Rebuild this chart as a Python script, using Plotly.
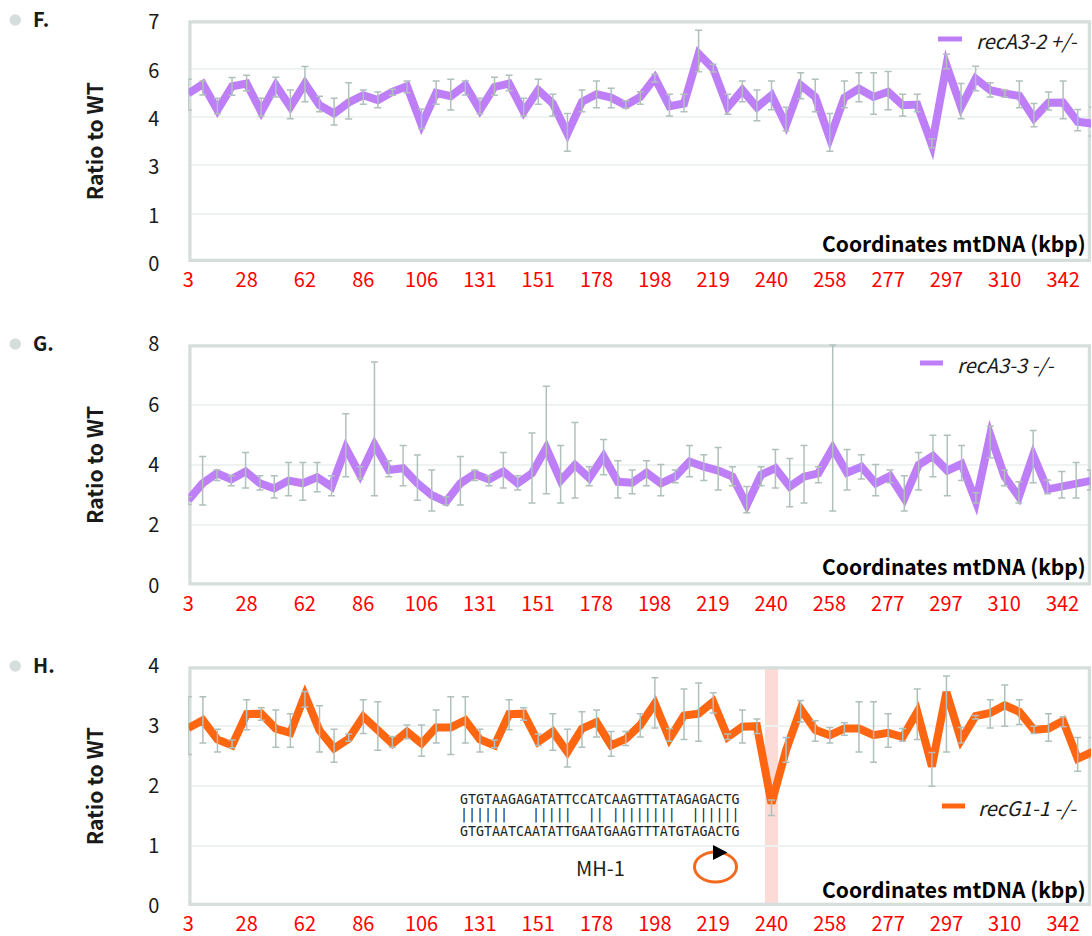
import numpy as np
import plotly.graph_objects as go

tick_labels = ["3","28","62","86","106","131","151","178","198","219","240","258","277","297","310","342"]

f_mean = [4.88,5.15,4.40,5.09,5.17,4.35,5.12,4.49,5.17,4.54,4.30,4.62,4.83,4.69,4.93,5.09,3.97,4.90,4.80,5.12,4.40,5.07,5.17,4.35,4.98,
          4.59,3.72,4.64,4.86,4.76,4.54,4.78,5.33,4.51,4.59,6.03,5.60,4.48,4.98,4.48,4.83,3.97,5.12,4.78,3.58,4.76,5.02,4.78,4.93,4.54,4.56,3.39,5.70,4.49,5.31,4.98,4.88,4.81,4.16,4.61,4.62,4.06,4.01]
f_high = [5.29,5.24,4.74,5.34,5.41,4.74,5.35,4.98,5.66,4.80,4.74,5.19,4.98,4.92,5.00,5.24,4.43,5.24,5.29,5.24,4.74,5.35,5.41,4.74,5.29,
          4.86,4.30,4.98,5.24,5.03,4.67,4.93,5.44,4.86,4.86,6.71,5.73,4.86,5.24,4.98,5.24,4.48,5.48,5.29,4.30,5.24,5.48,5.48,5.52,4.86,4.86,3.57,6.02,5.17,5.67,5.19,4.98,5.24,4.59,4.92,5.24,4.42,4.49]
f_low = [4.40,4.84,4.29,4.83,4.96,4.23,4.78,4.15,4.64,4.35,3.97,4.14,4.57,4.47,4.83,4.90,3.86,4.57,4.40,4.84,4.29,4.83,4.96,4.23,4.57,
         4.23,3.21,4.35,4.47,4.47,4.45,4.57,5.21,4.23,4.35,5.51,5.50,4.28,4.64,4.09,4.41,3.80,4.73,4.35,3.21,4.47,4.64,4.28,4.41,4.23,4.35,3.31,5.60,4.15,4.96,4.78,4.78,4.47,3.92,4.40,4.15,3.80,3.65]

g_mean = [2.83,3.39,3.72,3.52,3.78,3.39,3.22,3.48,3.39,3.59,3.28,4.56,3.67,4.67,3.83,3.89,3.39,3.00,2.78,3.39,3.70,3.52,3.78,3.39,3.72,
          4.56,3.48,4.00,3.56,4.28,3.44,3.41,3.74,3.39,3.61,4.11,3.94,3.81,3.61,2.67,3.67,3.89,3.28,3.61,3.72,4.56,3.74,3.94,3.39,3.63,2.89,4.00,4.30,3.81,4.03,2.78,5.00,3.61,2.94,4.33,3.19,3.28,3.39,3.47]
g_high = [2.94,4.28,3.83,3.64,4.41,3.64,3.64,4.08,4.08,4.08,3.64,5.70,3.94,7.41,4.14,4.64,4.33,3.83,2.94,4.28,3.83,3.64,4.41,3.64,5.06,
          6.61,4.64,5.41,3.94,4.84,4.14,3.83,4.14,4.01,3.83,4.64,4.34,4.58,3.94,3.28,3.94,4.51,4.21,4.64,3.94,7.98,4.51,4.34,4.01,3.83,3.64,4.41,4.98,4.98,4.64,3.08,5.28,3.83,3.44,5.14,3.50,3.78,4.08,3.83]
g_low = [2.69,2.67,3.48,3.31,3.23,3.17,2.90,2.98,2.83,3.11,2.98,3.61,3.53,2.98,3.61,3.31,2.83,2.47,2.67,2.67,3.48,3.31,3.23,3.17,2.74,
         3.04,2.74,2.90,3.31,3.67,2.90,3.04,3.31,2.98,3.41,3.61,3.48,3.17,3.31,2.41,3.31,3.23,2.61,2.74,3.41,2.47,3.17,3.53,2.98,3.41,2.47,3.17,3.61,2.98,3.48,2.74,4.24,3.31,2.74,3.41,3.04,2.90,2.90,3.17]

h_mean = [2.97,3.10,2.78,2.68,3.20,3.21,2.96,2.89,3.52,2.93,2.63,2.79,3.16,2.93,2.71,2.91,2.71,2.98,2.98,3.10,2.78,2.68,3.20,3.21,2.74,
          2.91,2.57,2.96,3.07,2.68,2.79,3.02,3.38,2.79,3.18,3.21,3.41,2.82,2.99,3.00,1.71,2.60,3.29,2.94,2.85,2.96,2.96,2.85,2.89,2.82,3.24,2.33,3.57,2.77,3.17,3.22,3.35,3.24,2.94,2.96,3.09,2.46,2.57]
h_high = [3.49,3.49,2.95,2.77,3.44,3.31,3.27,3.21,3.58,3.34,2.95,2.87,3.44,3.41,2.83,3.02,3.02,3.27,3.49,3.49,2.95,2.77,3.44,3.31,2.87,
          3.21,2.95,3.24,3.27,2.91,2.91,3.21,3.81,2.96,3.62,3.72,3.56,2.87,3.27,3.12,1.77,2.81,3.43,3.09,2.98,3.06,3.41,3.41,3.21,2.96,3.62,2.56,3.84,2.98,3.18,3.44,3.69,3.44,3.00,3.21,3.16,2.81,2.81]
h_low = [2.53,2.72,2.57,2.64,2.94,3.10,2.65,2.65,3.32,2.57,2.40,2.75,2.88,2.60,2.65,2.79,2.50,2.72,2.53,2.72,2.57,2.64,2.94,3.10,2.68,
         2.60,2.32,2.65,2.82,2.50,2.68,2.82,2.97,2.75,2.78,2.75,3.22,2.78,2.72,2.88,1.51,2.40,3.07,2.75,2.72,2.85,2.57,2.40,2.65,2.75,2.78,2.00,2.57,2.72,3.12,2.97,3.00,3.03,2.88,2.75,2.99,2.25,2.47]

seq_top = "GTGTAAGAGATATTCCATCAAGTTTATAGAGACTG"
seq_mid = "||||||   |||||  || ||||||||  ||||||"
seq_bot = "GTGTAATCAATATTGAATGAAGTTTATGTAGACTG"

W, H = 1092, 936
PURPLE, ORANGE = "#bd7ef7", "#ff6611"
FRAME, GRID, ERR = "#d5dedc", "#eef2f1", "#b0c0bd"
CJK = "Noto Sans CJK SC"
INK = "#1a1a1a"

def px(x): return x / W
def py(y): return 1 - y / H

panels = [
    dict(tag="F.", mean=f_mean, high=f_high, low=f_low, color=PURPLE, name="recA3-2 +/-", top=20.3, bot=262,
         ymax=7, yvals=[0,1.4,2.8,4.2,5.6,7], ytext=["0","1","3","4","6","7"], step=14.58, tick_step=4,
         leg=(938,962,39,974), tagy=(18,20), xtitle=243),
    dict(tag="G.", mean=g_mean, high=g_high, low=g_low, color=PURPLE, name="recA3-3 -/-", top=344.3, bot=585.5,
         ymax=8, yvals=[0,2,4,6,8], ytext=["0","2","4","6","8"], step=14.32, tick_step=4.07,
         leg=(920,943,363,955), tagy=(342,344), xtitle=566),
    dict(tag="H.", mean=h_mean, high=h_high, low=h_low, color=ORANGE, name="recG1-1 -/-", top=666.3, bot=906,
         ymax=4, yvals=[0,1,2,3,4], ytext=["0","1","2","3","4"], step=14.58, tick_step=4,
         leg=(942,965,806,976), tagy=(664,666), xtitle=889),
]

fig = go.Figure()
shapes, annos = [], []
X0, X1 = 188.3, 1091

for n, p in enumerate(panels, start=1):
    sfx = "" if n == 1 else str(n)
    xa, ya = "x" + sfx, "y" + sfx
    mean = np.array(p["mean"]); high = np.array(p["high"]); low = np.array(p["low"])
    idx = np.arange(len(mean))
    xmax = (X1-X0)/p["step"]
    fig.add_trace(go.Scatter(x=idx, y=mean, mode="lines", name=p["name"], xaxis=xa, yaxis=ya,
                             line=dict(color=p["color"], width=8), cliponaxis=False, showlegend=False))
    fig.add_trace(go.Scatter(x=idx, y=mean, mode="markers", xaxis=xa, yaxis=ya, showlegend=False,
                             marker=dict(opacity=0, size=1), cliponaxis=False,
                             error_y=dict(type="data", symmetric=False, array=high-mean, arrayminus=mean-low,
                                          color=ERR, thickness=1.5, width=3.5)))
    fig.update_layout(**{
        "xaxis" + sfx: dict(domain=[px(X0), px(X1)], range=[0, xmax], anchor=ya, automargin=False,
                            tickmode="array", tickvals=[k*p["tick_step"] for k in range(len(tick_labels))],
                            ticktext=tick_labels, tickangle=0, showgrid=False, zeroline=False, showline=False,
                            ticks="", ticklabelstandoff=4, tickfont=dict(family=CJK, size=20, color="#ff0000")),
        "yaxis" + sfx: dict(domain=[py(p["bot"]), py(p["top"])], range=[0, p["ymax"]], anchor=xa, automargin=False,
                            tickmode="array", tickvals=p["yvals"], ticktext=p["ytext"],
                            showgrid=True, gridcolor=GRID, gridwidth=2, zeroline=False, showline=False,
                            ticks="", ticklabelstandoff=28, tickfont=dict(family=CJK, size=20, color=INK),
                            title=dict(text="Ratio to WT", standoff=38, font=dict(family=CJK, size=21, color=INK, weight="bold"))),
    })
    # frame
    shapes.append(dict(type="rect", xref=xa, yref=ya, x0=0, x1=xmax, y0=0, y1=p["ymax"],
                       layer="between", line=dict(color=FRAME, width=6.5), fillcolor="rgba(0,0,0,0)"))
    # panel bullet + tag
    by = p["tagy"][1]
    shapes.append(dict(type="circle", xref="paper", yref="paper", x0=px(9.5), x1=px(21), y0=py(by+5.7), y1=py(by-5.7),
                       line=dict(width=0), fillcolor=FRAME))
    annos.append(dict(text=p["tag"], xref="paper", yref="paper", x=px(31), y=py(p["tagy"][0]), xanchor="left", yanchor="middle",
                      showarrow=False, font=dict(family=CJK, size=20, color=INK, weight="bold")))
    # x title
    annos.append(dict(text="Coordinates mtDNA (kbp)", xref="paper", yref="paper", x=px(1088), y=py(p["xtitle"]),
                      xanchor="right", yanchor="middle", showarrow=False,
                      font=dict(family=CJK, size=21, color="#000000", weight="bold")))
    # legend key
    l0, l1, ly, lt = p["leg"]
    shapes.append(dict(type="line", xref="paper", yref="paper", x0=px(l0), x1=px(l1), y0=py(ly), y1=py(ly),
                       line=dict(color=p["color"], width=5)))
    annos.append(dict(text="<i>%s</i>" % p["name"], xref="paper", yref="paper", x=px(lt), y=py(ly+1.5), xanchor="left", yanchor="middle",
                      showarrow=False, font=dict(family=CJK, size=20, color=INK)))

# pink highlight on panel H
shapes.append(dict(type="rect", xref="x3", yref="y3", x0=39.55, x1=40.45, y0=0, y1=4, layer="below",
                   line=dict(width=0), fillcolor="#fcdad6"))
# plasmid glyph
shapes.append(dict(type="circle", xref="paper", yref="paper", x0=px(694.5), x1=px(736.5), y0=py(882), y1=py(852),
                   line=dict(color="#f26a1e", width=3), fillcolor="rgba(0,0,0,0)"))
shapes.append(dict(type="path", xref="paper", yref="paper",
                   path="M %f %f L %f %f L %f %f Z" % (px(713), py(845), px(727.5), py(852.5), px(713), py(860)),
                   line=dict(width=0), fillcolor="#000000"))

for txt, y in ((seq_top, 799.5), (seq_mid, 815), (seq_bot, 831.5)):
    annos.append(dict(text=txt, xref="paper", yref="paper", x=px(458), y=py(y), xanchor="left", yanchor="middle",
                      showarrow=False, font=dict(family="DejaVu Sans Mono", size=13.28, color="#222222")))
annos.append(dict(text="MH-1", xref="paper", yref="paper", x=px(600), y=py(867), xanchor="center", yanchor="middle",
                  showarrow=False, font=dict(family=CJK, size=20, color="#222222")))

fig.update_layout(width=W, height=H, margin=dict(l=0, r=0, t=0, b=0), paper_bgcolor="white", plot_bgcolor="white",
                  showlegend=False, shapes=shapes, annotations=annos, font=dict(family=CJK))
js = """document.body.style.margin='0';
document.querySelectorAll('.js-line').forEach(function(e){e.style.strokeLinejoin='miter';e.style.strokeMiterlimit='4';});
document.querySelectorAll('.ytick text').forEach(function(e){var t=e.getAttribute('transform')||'';e.setAttribute('transform',t+' translate(0,2)');});"""
fig.write_html("out.html", config=dict(displayModeBar=False), post_script=js)
